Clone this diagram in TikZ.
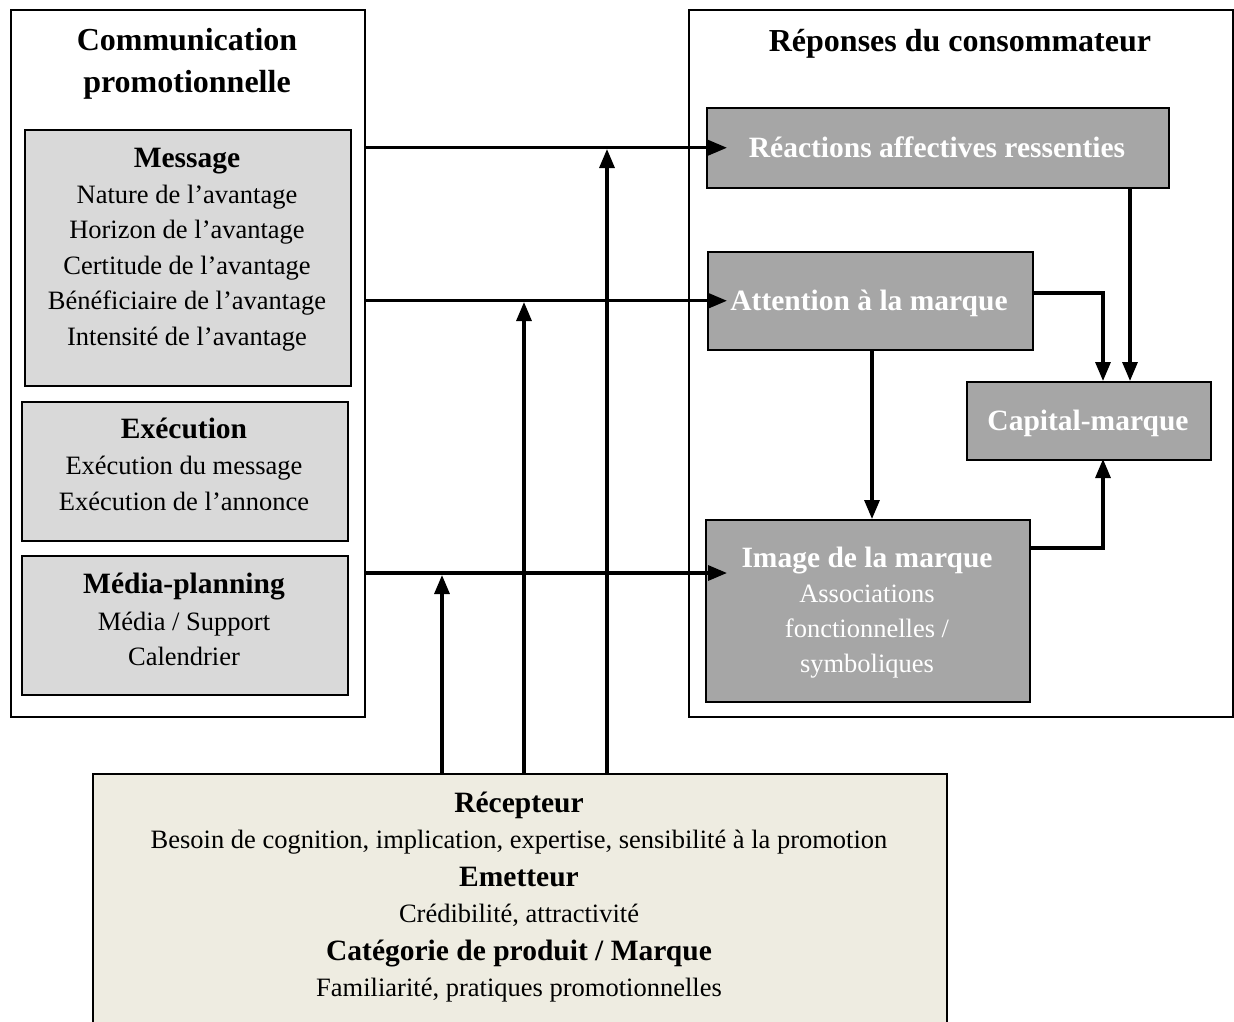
\documentclass[tikz,border=0pt]{standalone}
\usepackage{fontspec}
\setmainfont{Liberation Serif}
\usetikzlibrary{arrows.meta,calc}
\definecolor{lightbox}{HTML}{D9D9D9}
\definecolor{darkbox}{HTML}{A6A6A6}
\definecolor{tanbox}{HTML}{EEECE1}
\begin{document}
\begin{tikzpicture}[x=1pt,y=-1pt,
  frame/.style={draw=black,line width=1.5pt,anchor=north west,inner sep=0pt},
  lbox/.style={frame,fill=lightbox},
  dbox/.style={frame,fill=darkbox},
  titletxt/.style={anchor=base,inner sep=0pt,font=\fontsize{32}{38}\selectfont\bfseries},
  headtxt/.style={anchor=base,inner sep=0pt,font=\fontsize{29.5}{35}\selectfont\bfseries},
  bodytxt/.style={anchor=base,inner sep=0pt,font=\fontsize{26.5}{32}\selectfont},
  wtext/.style={text=white},
  arr/.style={line width=3.2pt,-{Triangle[length=19pt,width=15pt]}}]
\useasboundingbox (0,0) rectangle (1234,1021);
\fill[white] (0,0) rectangle (1234,1021);
% outer boxes
\node[frame,minimum width=354pt,minimum height=707pt] (lo) at (10,9) {};
\node[frame,minimum width=544pt,minimum height=707pt] (ro) at (688,9) {};
\node[titletxt] (lot1) at (187,50.5) {Communication};
\node[titletxt] (lot2) at (187,92) {promotionnelle};
\node[titletxt] (rot) at (960,51) {Réponses du consommateur};
% left inner boxes
\node[lbox,minimum width=326pt,minimum height=256pt] (msg) at (24,129) {};
\node[headtxt] (msg0) at (187,167) {Message};
\node[bodytxt] (msg1) at (187,203) {Nature de l’avantage};
\node[bodytxt] (msg2) at (187,238.5) {Horizon de l’avantage};
\node[bodytxt] (msg3) at (187,274) {Certitude de l’avantage};
\node[bodytxt] (msg4) at (187,309.5) {Bénéficiaire de l’avantage};
\node[bodytxt] (msg5) at (187,345) {Intensité de l’avantage};
\node[lbox,minimum width=326pt,minimum height=139pt] (exe) at (21,401) {};
\node[headtxt] (exe0) at (184,438) {Exécution};
\node[bodytxt] (exe1) at (184,474) {Exécution du message};
\node[bodytxt] (exe2) at (184,510) {Exécution de l’annonce};
\node[lbox,minimum width=326pt,minimum height=139pt] (med) at (21,555) {};
\node[headtxt] (med0) at (184,593) {Média-planning};
\node[bodytxt] (med1) at (184,630) {Média / Support};
\node[bodytxt] (med2) at (184,665) {Calendrier};
% right inner boxes
\node[dbox,minimum width=462pt,minimum height=80pt] (rea) at (706,107) {};
\node[headtxt,wtext] (reat) at (937,157) {Réactions affectives ressenties};
\node[dbox,minimum width=325pt,minimum height=98pt] (att) at (707,251) {};
\node[headtxt,wtext] (attt) at (869,310) {Attention à la marque};
\node[dbox,minimum width=244pt,minimum height=78pt] (cap) at (966,381) {};
\node[headtxt,wtext] (capt) at (1088,430) {Capital-marque};
\node[dbox,minimum width=324pt,minimum height=182pt] (img) at (705,519) {};
\node[headtxt,wtext] (img0) at (867,567) {Image de la marque};
\node[bodytxt,wtext] (img1) at (867,602) {Associations};
\node[bodytxt,wtext] (img2) at (867,637) {fonctionnelles /};
\node[bodytxt,wtext] (img3) at (867,672) {symboliques};
% bottom box
\node[frame,fill=tanbox,minimum width=854pt,minimum height=270pt] (bot) at (92,773) {};
\node[headtxt] (bot0) at (519,812) {Récepteur};
\node[bodytxt] (bot1) at (519,848) {Besoin de cognition, implication, expertise, sensibilité à la promotion};
\node[headtxt] (bot2) at (519,886) {Emetteur};
\node[bodytxt] (bot3) at (519,922) {Crédibilité, attractivité};
\node[headtxt] (bot4) at (519,960) {Catégorie de produit / Marque};
\node[bodytxt] (bot5) at (519,996) {Familiarité, pratiques promotionnelles};
% coordinates
\coordinate (c1) at (607,773);
\coordinate (c2) at (524,773);
\coordinate (c3) at (442,773);
% horizontal arrows
\draw[arr] (lo.east |- rea) -- ($(rea.west)+(21,0)$);
\draw[arr] (lo.east |- att) -- ($(att.west)+(20,0)$);
\draw[arr] (364,573) -- (727,573);
% vertical arrows from receptor
\draw[arr] (c1) -- (607,149);
\draw[arr] (c2) -- (524,302);
\draw[arr] (c3) -- (442,575);
% right side connectors
\draw[arr] (1130,187) -- (1130,381);
\draw[arr] (1032,293) -- (1103,293) -- (1103,381);
\draw[arr] (872,349) -- (872,519);
\draw[arr] (1029,548) -- (1103,548) -- (1103,459);
\end{tikzpicture}
\end{document}
